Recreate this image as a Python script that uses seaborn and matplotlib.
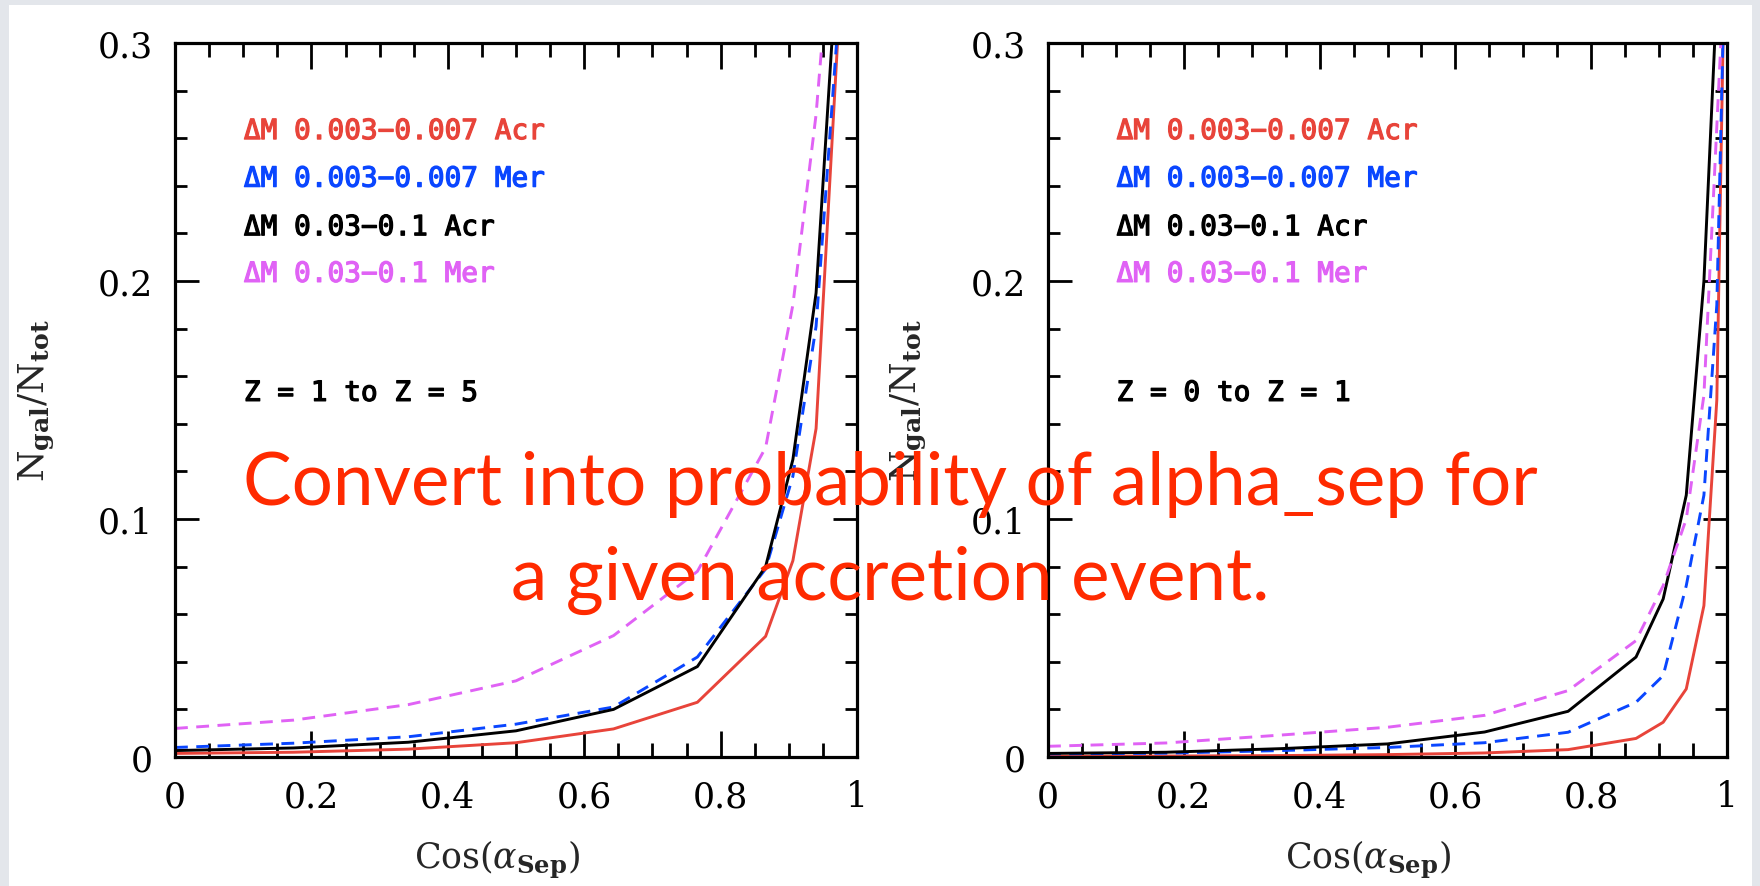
import numpy as np
import pandas as pd
import matplotlib
matplotlib.use('Agg')
import matplotlib.pyplot as plt
import matplotlib.patheffects as pe
import seaborn as sns
from matplotlib.ticker import FixedLocator, MultipleLocator
from matplotlib.patches import Rectangle

# ---------------- data ----------------
cos_sep = [0.0, 0.174, 0.342, 0.5, 0.643, 0.766, 0.866, 0.906, 0.940, 0.966, 0.985, 0.996]

left_acr_small = [0.0015, 0.0020, 0.0033, 0.0060, 0.0118, 0.0230, 0.0507, 0.0825, 0.138, 0.272, 0.370, 0.45]
left_mer_small = [0.0040, 0.0058, 0.0085, 0.0138, 0.0210, 0.0420, 0.0790, 0.118, 0.181, 0.284, 0.360, 0.44]
left_acr_big   = [0.0027, 0.0038, 0.0062, 0.0110, 0.0200, 0.0380, 0.0800, 0.125, 0.195, 0.313, 0.400, 0.48]
left_mer_big   = [0.0120, 0.0155, 0.0220, 0.0320, 0.0510, 0.0780, 0.130, 0.190, 0.270, 0.360, 0.450, 0.52]

right_acr_small = [0.0003, 0.0004, 0.0006, 0.0010, 0.0017, 0.0031, 0.0078, 0.0146, 0.0286, 0.0636, 0.150, 0.33]
right_mer_small = [0.0013, 0.0016, 0.0027, 0.0040, 0.0060, 0.0104, 0.0230, 0.0342, 0.0720, 0.110, 0.190, 0.325]
right_acr_big   = [0.0015, 0.0020, 0.0035, 0.0055, 0.0105, 0.0192, 0.0420, 0.0664, 0.110, 0.200, 0.320, 0.40]
right_mer_big   = [0.0045, 0.0059, 0.0092, 0.0125, 0.0175, 0.0279, 0.0489, 0.0720, 0.100, 0.152, 0.265, 0.33]

series_keys = ['acr_small', 'mer_small', 'acr_big', 'mer_big']
series_labels = ['\u0394M 0.003\u22120.007 Acr', '\u0394M 0.003\u22120.007 Mer',
                 '\u0394M 0.03\u22120.1 Acr', '\u0394M 0.03\u22120.1 Mer']
panel_notes = ['Z = 1 to Z = 5', 'Z = 0 to Z = 1']

x_ticks = [0, 0.2, 0.4, 0.6, 0.8, 1.0]
x_ticklabels = ['0', '0.2', '0.4', '0.6', '0.8', '1']
y_ticks = [0, 0.1, 0.2, 0.3]
y_ticklabels = ['0', '0.1', '0.2', '0.3']

overlay_lines = ['Convert into probability of alpha_sep for', 'a given accretion event.']

# ---------------- style ----------------
sns.set_style('ticks')
plt.rcParams['mathtext.fontset'] = 'dejavuserif'
plt.rcParams['font.family'] = ['DejaVu Serif']
plt.rcParams.update({
    'xtick.direction': 'in', 'ytick.direction': 'in',
    'xtick.top': True, 'ytick.right': True,
    'xtick.bottom': True, 'ytick.left': True,
    'xtick.major.size': 19, 'xtick.minor.size': 10,
    'ytick.major.size': 17, 'ytick.minor.size': 8.6,
    'xtick.major.width': 2.0, 'xtick.minor.width': 2.0,
    'ytick.major.width': 2.0, 'ytick.minor.width': 2.0,
    'xtick.minor.visible': True, 'ytick.minor.visible': True,
    'xtick.major.pad': 16, 'ytick.major.pad': 16,
    'xtick.color': 'black', 'ytick.color': 'black',
})

palette = {'acr_small': '#e8443a', 'mer_small': '#0a46ff', 'acr_big': '#000000', 'mer_big': '#e062f5'}
dashes = {'acr_small': '', 'mer_small': (4.4, 2.9), 'acr_big': '', 'mer_big': (4.4, 2.9)}

W, H = 1760, 887
fig = plt.figure(figsize=(W / 100, H / 100), dpi=100)
fig.patch.set_facecolor('#e3e6eb')
fig.add_artist(Rectangle((9 / W, 0), (1752 - 9) / W, (H - 6) / H, transform=fig.transFigure,
                         facecolor='white', edgecolor='none', zorder=0))

panels = [
    dict(rect=[175 / W, (H - 758) / H, (857 - 175) / W, (758 - 44) / H],
         data=[left_acr_small, left_mer_small, left_acr_big, left_mer_big], note=panel_notes[0],
         ylab_x=-0.174, xlab_x=0.472),
    dict(rect=[1048 / W, (H - 758) / H, (1727 - 1048) / W, (758 - 44) / H],
         data=[right_acr_small, right_mer_small, right_acr_big, right_mer_big], note=panel_notes[1],
         ylab_x=-0.177, xlab_x=0.471),
]

legend_y = [0.263, 0.243, 0.2226, 0.203]

for p in panels:
    ax = fig.add_axes(p['rect'])
    ax.set_facecolor('none')
    frames = []
    for key, vals in zip(series_keys, p['data']):
        frames.append(pd.DataFrame({'cos': cos_sep, 'frac': vals, 'series': key}))
    df = pd.concat(frames, ignore_index=True)
    sns.lineplot(data=df, x='cos', y='frac', hue='series', style='series', palette=palette,
                 dashes=dashes, linewidth=2.1, legend=False, sort=False, ax=ax,
                 hue_order=series_keys, style_order=series_keys)
    ax.set_xlim(0, 1)
    ax.set_ylim(0, 0.3)
    ax.xaxis.set_major_locator(FixedLocator(x_ticks))
    ax.set_xticklabels(x_ticklabels)
    ax.xaxis.set_minor_locator(MultipleLocator(0.05))
    ax.yaxis.set_major_locator(FixedLocator(y_ticks))
    ax.set_yticklabels(y_ticklabels)
    ax.yaxis.set_minor_locator(MultipleLocator(0.02))
    ax.tick_params(which='both', direction='in', top=True, right=True, bottom=True, left=True,
                   width=2.0, color='black', labelsize=25, labelcolor='black')
    ax.tick_params(axis='x', which='major', length=19, pad=16)
    ax.tick_params(axis='x', which='minor', length=10)
    ax.tick_params(axis='y', which='major', length=17, pad=16)
    ax.tick_params(axis='y', which='minor', length=8.6)
    for s in ax.spines.values():
        s.set_linewidth(2.3)
        s.set_color('black')
        s.set_visible(True)
    for lab in ax.get_xticklabels() + ax.get_yticklabels():
        lab.set_family('DejaVu Serif')

    ax.set_xlabel(r'Cos($\alpha_{\mathbf{Sep}}$)', fontsize=25, family='DejaVu Serif')
    ax.xaxis.set_label_coords(p['xlab_x'], -0.112)
    ax.set_ylabel(r'N$_{\mathbf{gal}}$/N$_{\mathbf{tot}}$', fontsize=26, family='DejaVu Serif')
    ax.yaxis.set_label_coords(p['ylab_x'], 0.5)

    for lab, yy, key in zip(series_labels, legend_y, series_keys):
        ax.text(0.101, yy, lab, color=palette[key], fontsize=20, family=['DejaVu Sans Mono'],
                va='center', ha='left',
                path_effects=[pe.withStroke(linewidth=0.9, foreground=palette[key])])
    ax.text(0.101, 0.153, p['note'], color='black', fontsize=20, family=['DejaVu Sans Mono'],
            va='center', ha='left',
            path_effects=[pe.withStroke(linewidth=0.9, foreground='black')])

# ---------------- overlay slide text ----------------
fig.canvas.draw()
renderer = fig.canvas.get_renderer()
t1 = fig.text(890 / W, (H - 505) / H, overlay_lines[0], color='#ff2a00', fontsize=50,
              family=['Lato'], ha='center', va='baseline', zorder=20)
bb = t1.get_window_extent(renderer)
fs = 50 * 1293 / bb.width
t1.set_fontsize(fs)
t2 = fig.text(890 / W, (H - 600) / H, overlay_lines[1], color='#ff2a00', fontsize=fs,
              family=['Lato'], ha='center', va='baseline', zorder=20)

fig.savefig('out.png', dpi=100, facecolor=fig.get_facecolor())
